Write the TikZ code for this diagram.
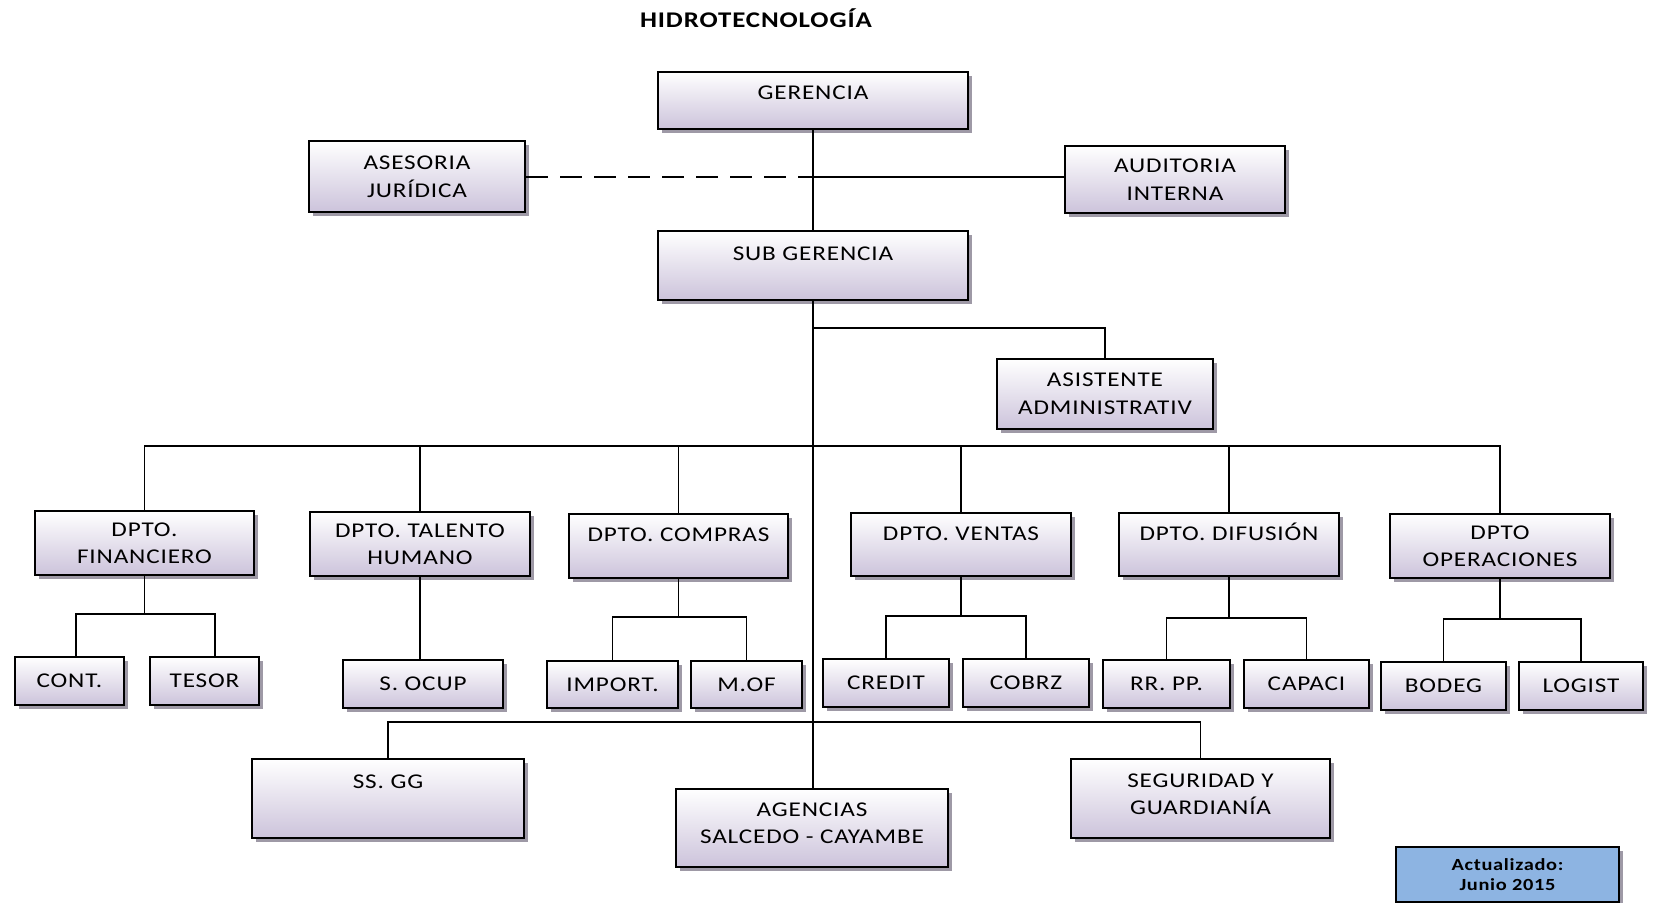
\documentclass[tikz,border=0pt]{standalone}
\usepackage{fontspec}
\setmainfont{Carlito}[FakeStretch=1.2,LetterSpace=4]
\usetikzlibrary{shadows}
\definecolor{lavbot}{RGB}{204,195,219}
\definecolor{shadowgray}{RGB}{158,153,166}
\definecolor{notablue}{RGB}{141,180,226}
\begin{document}
\begin{tikzpicture}[x=0.5pt,y=-0.5pt,
  box/.style={draw,line width=1.4pt,top color=white,bottom color=lavbot,
    drop shadow={shadow xshift=2pt,shadow yshift=-2pt,fill=shadowgray,opacity=1},
    align=center,inner sep=2pt,font=\fontsize{10.5}{13.6}\selectfont},
  note/.style={box,top color=notablue,bottom color=notablue,
    font=\bfseries\fontsize{8.5}{10}\selectfont},
  sz/.style 2 args={minimum width=#1*0.5pt,minimum height=#2*0.5pt},
  lift/.style={text depth=#1},
  link/.style={draw,line width=0.9pt}]
\useasboundingbox (0,0) rectangle (1654,903);

\node[font=\bfseries\fontsize{11.2}{13}\selectfont] (title) at (756,18) {HIDROTECNOLOGÍA};

% direccion
\node[box,sz={310}{57},lift=8pt] (ger) at (813,100.5) {GERENCIA};
\node[box,sz={216}{71}] (ase) at (417,176.5) {ASESORIA\\[0.6pt]JURÍDICA};
\node[box,sz={220}{67}] (aud) at (1175,179.5) {AUDITORIA\\[0.6pt]INTERNA};
\node[box,sz={310}{69},lift=12pt] (subg) at (813,265.5) {SUB GERENCIA};
\node[box,sz={216}{70}] (asis) at (1105,394) {ASISTENTE\\[0.6pt]ADMINISTRATIV};

% departamentos
\node[box,sz={219}{64}] (fin) at (144.5,543) {DPTO.\\FINANCIERO};
\node[box,sz={220}{64}] (tal) at (420,544) {DPTO. TALENTO\\HUMANO};
\node[box,sz={219}{64},lift=11pt] (com) at (678.5,546) {DPTO. COMPRAS};
\node[box,sz={220}{63},lift=11pt] (ven) at (961,544.5) {DPTO. VENTAS};
\node[box,sz={220}{63},lift=13pt] (dif) at (1229,544.5) {DPTO. DIFUSIÓN};
\node[box,sz={220}{64}] (ope) at (1500,546) {DPTO\\OPERACIONES};

% secciones
\node[box,sz={109}{48}] (cont) at (69.5,681) {CONT.};
\node[box,sz={109}{48}] (tes) at (204.5,681) {TESOR};
\node[box,sz={160}{48}] (socup) at (423,684) {S. OCUP};
\node[box,sz={131}{47}] (imp) at (612.5,684.5) {IMPORT.};
\node[box,sz={111}{47}] (mofi) at (746.5,684.5) {M.OF};
\node[box,sz={126}{48}] (cre) at (886,683) {CREDIT};
\node[box,sz={126}{48}] (cob) at (1026,683) {COBRZ};
\node[box,sz={127}{48}] (rrpp) at (1166.5,684) {RR. PP.};
\node[box,sz={125}{48}] (capa) at (1306.5,684) {CAPACI};
\node[box,sz={125}{48}] (bod) at (1443.5,686) {BODEG};
\node[box,sz={124}{48}] (logi) at (1581,686) {LOGIST};

% apoyo
\node[box,sz={272}{79},lift=17pt] (ssgg) at (388,798.5) {SS. GG};
\node[box,sz={272}{78},lift=5pt] (agen) at (812,828) {AGENCIAS\\SALCEDO - CAYAMBE};
\node[box,sz={259}{79},lift=4.5pt] (segu) at (1200.5,798.5) {SEGURIDAD Y\\GUARDIANÍA};

\node[note,sz={223}{55}] (act) at (1507.5,874.5) {Actualizado:\\Junio 2015};

% conexiones
\coordinate (j) at (813,177);
\coordinate (a) at (813,328);
\coordinate (bus) at (813,446);
\coordinate (bus2) at (813,722);
\path[link] (ger.south) -- (subg.north);
\path[link,dash pattern=on 11pt off 6pt] (ase.east |- j) -- (j);
\path[link] (j) -- (aud.west |- j);
\path[link] (subg.south) -- (subg.south |- agen.north);
\path[link] (a) -| (asis.north);
\path[link] (fin.north) |- (bus) -| (ope.north);
\foreach \d in {tal,com,ven,dif}
  \path[link] (\d.north) -- (\d.north |- bus);
\path[link] (ssgg.north) |- (bus2) -| (segu.north);

\coordinate (fbL) at (76,614);
\coordinate (fbR) at (215,614);
\path[link] (fin.south) -- (fin.south |- fbL);
\path[link] (fbL |- cont.north) -- (fbL) -- (fbR) -- (fbR |- tes.north);
\path[link] (tal.south) -- (tal.south |- socup.north);
\foreach \d/\l/\r/\y in {com/imp/mofi/617,ven/cre/cob/616,dif/rrpp/capa/618,ope/bod/logi/619}{
  \coordinate (\d b) at (\d.south |- 0,\y);
  \path[link] (\d.south) -- (\d b);
  \path[link] (\l.north) |- (\d b) -| (\r.north);
}
\end{tikzpicture}
\end{document}
